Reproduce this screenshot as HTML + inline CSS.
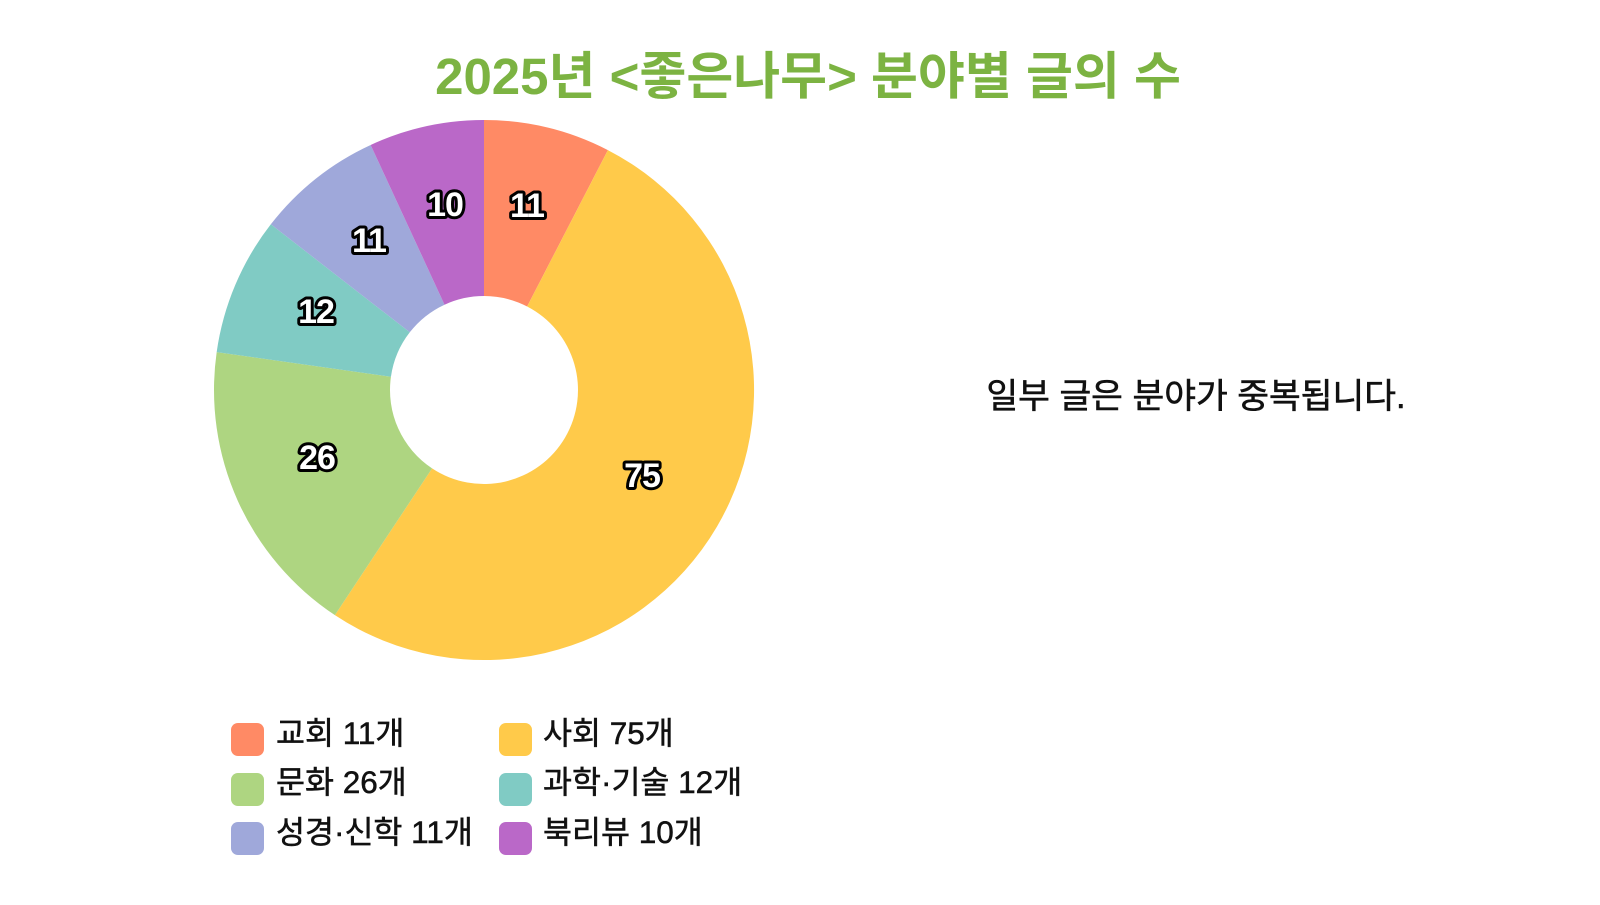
<!DOCTYPE html>
<html><head><meta charset="utf-8"><style>
body{margin:0;width:1600px;height:900px;background:#fff;overflow:hidden;font-family:"Liberation Sans","Noto Sans CJK KR",sans-serif;}
</style></head><body>
<svg id="s" width="1600" height="900" xmlns="http://www.w3.org/2000/svg">
<text x="808" y="94" text-anchor="middle" font-size="51" font-weight="bold" fill="#7cb342" font-family="Liberation Sans, Noto Sans CJK KR, sans-serif">2025년 &lt;좋은나무&gt; 분야별 글의 수</text>
<text x="1196" y="408" text-anchor="middle" font-size="34.5" fill="#111" stroke="#111" stroke-width="0.6" font-family="Liberation Sans, Noto Sans CJK KR, sans-serif">일부 글은 분야가 중복됩니다.</text>
<g id="pie"></g>
<g font-size="31.5" fill="#111" stroke="#111" stroke-width="0.5" font-family="Liberation Sans, Noto Sans CJK KR, sans-serif">
<rect x="231" y="723" width="33" height="33" rx="7" fill="#ff8a65" stroke="none"/><text x="276" y="744">교회 11개</text>
<rect x="499" y="723" width="33" height="33" rx="7" fill="#ffca4a" stroke="none"/><text x="543" y="744">사회 75개</text>
<rect x="231" y="773" width="33" height="33" rx="7" fill="#aed581" stroke="none"/><text x="276" y="793">문화 26개</text>
<rect x="499" y="773" width="33" height="33" rx="7" fill="#80cbc4" stroke="none"/><text x="543" y="793">과학·기술 12개</text>
<rect x="231" y="822" width="33" height="33" rx="7" fill="#9fa8da" stroke="none"/><text x="276" y="843">성경·신학 11개</text>
<rect x="499" y="822" width="33" height="33" rx="7" fill="#ba68c8" stroke="none"/><text x="543" y="843">북리뷰 10개</text>
</g>
</svg>
<script>
var d=[[11,"#ff8a65"],[75,"#ffca4a"],[26,"#aed581"],[12,"#80cbc4"],[11,"#9fa8da"],[10,"#ba68c8"]];
var cx=484,cy=390,R=270,r=94,tot=145,a=-Math.PI/2,h="";
var lp=[[527,205],[642,475],[317,457],[316,311],[369,240],[445,204]];
d.forEach(function(e,i){var b=a+e[0]/tot*2*Math.PI,l=(b-a)>Math.PI?1:0;
function p(rr,t){return (cx+rr*Math.cos(t)).toFixed(2)+" "+(cy+rr*Math.sin(t)).toFixed(2);}
h+='<path fill="'+e[1]+'" d="M'+p(R,a)+' A'+R+' '+R+' 0 '+l+' 1 '+p(R,b)+' L'+p(r,b)+' A'+r+' '+r+' 0 '+l+' 0 '+p(r,a)+' Z"/>';a=b;});
lp.forEach(function(q,i){h+='<text x="'+q[0]+'" y="'+(q[1]+12)+'" text-anchor="middle" font-size="34" font-weight="bold" fill="#fff" stroke="#000" stroke-width="6" paint-order="stroke" stroke-linejoin="round" letter-spacing="-1" font-family="Liberation Sans, sans-serif">'+d[i][0]+'</text>';});
document.getElementById("pie").innerHTML=h;
</script>
</body></html>
